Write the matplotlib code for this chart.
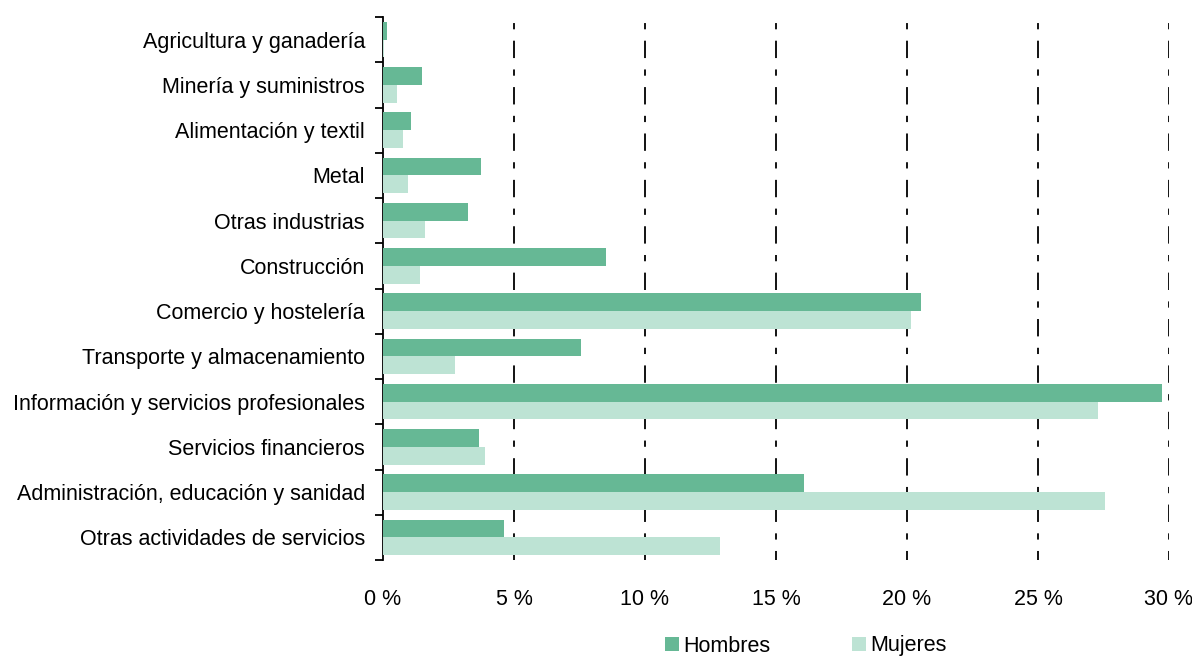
import numpy as np
import matplotlib.pyplot as plt

plt.rcParams['font.family'] = ['Liberation Sans', 'DejaVu Sans']
plt.rcParams['lines.scale_dashes'] = False

# datos (% del total)
sectores = ['Agricultura y ganadería', 'Minería y suministros', 'Alimentación y textil',
            'Metal', 'Otras industrias', 'Construcción', 'Comercio y hostelería',
            'Transporte y almacenamiento', 'Información y servicios profesionales',
            'Servicios financieros', 'Administración, educación y sanidad',
            'Otras actividades de servicios']
hombres = [0.15, 1.5, 1.05, 3.75, 3.25, 8.5, 20.55, 7.55, 29.75, 3.65, 16.05, 4.6]
mujeres = [0.05, 0.55, 0.78, 0.97, 1.6, 1.42, 20.15, 2.75, 27.3, 3.9, 27.55, 12.85]
xticks = [0, 5, 10, 15, 20, 25, 30]

c_h = '#66b895'
c_m = '#bde3d4'
fs = 15.5

fig = plt.figure(figsize=(11.92, 6.6), dpi=100)
ax = fig.add_axes([383/1192, 1-560/660, (1169-383)/1192, (560-17)/660])

y = np.arange(len(sectores))
h = 0.39
ax.barh(y - h/2, hombres, height=h, color=c_h, label='Hombres', zorder=3)
ax.barh(y + h/2, mujeres, height=h, color=c_m, label='Mujeres', zorder=3)

ax.set_ylim(len(sectores) - 0.5, -0.5)
ax.set_xlim(0, 30)
ax.set_yticks(y)
ax.set_yticklabels(sectores, fontsize=fs)
ax.set_yticks(np.arange(len(sectores) + 1) - 0.5, minor=True)
ax.tick_params(axis='y', which='major', length=0, pad=13)
ax.tick_params(axis='y', which='minor', length=6, width=1.3, direction='out')

ax.set_xticks(xticks)
ax.set_xticklabels([f'{v} %' for v in xticks], fontsize=fs)
ax.tick_params(axis='x', length=0, pad=21)

for s in ['top', 'right', 'bottom']:
    ax.spines[s].set_visible(False)
ax.spines['left'].set_linewidth(1.3)

ax.xaxis.grid(True, color='black', linewidth=1.3, linestyle=(6, (12.5, 8.2, 4.5, 8.2)), zorder=1)
ax.get_xgridlines()[0].set_visible(False)

fig.legend(loc='center', bbox_to_anchor=(806/1192, 1-646/660), ncol=2, frameon=False,
           fontsize=fs, handlelength=0.65, handleheight=0.65, handletextpad=0.2,
           columnspacing=3.8, borderpad=0.2)

fig.savefig('out.png')
